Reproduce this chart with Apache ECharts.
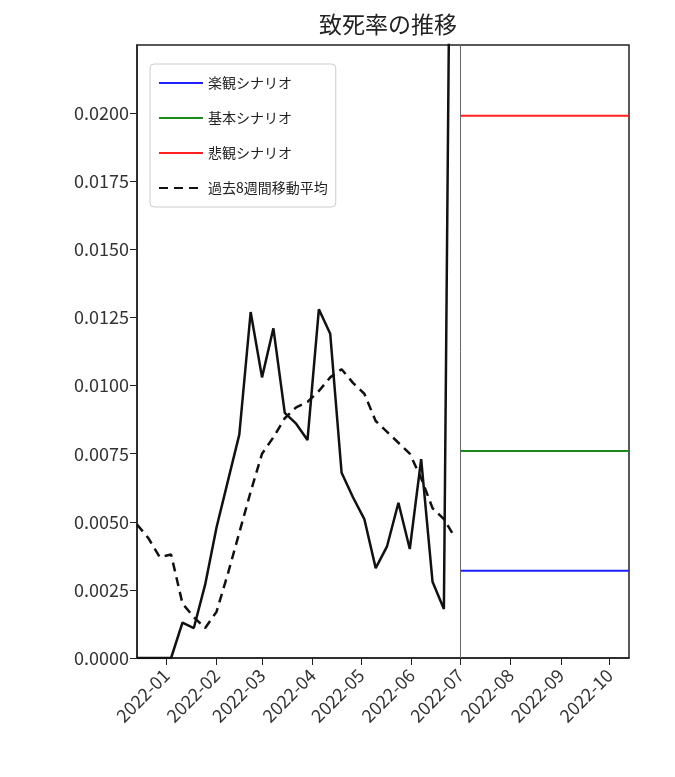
<!DOCTYPE html>
<html><head><meta charset="utf-8">
<script src="https://cdn.jsdelivr.net/npm/echarts@6/dist/echarts.min.js"></script>
<style>html,body{margin:0;padding:0;background:#fff}#c{width:675px;height:777px}</style>
</head><body><div id="c"></div>
<script>
const weeks = ['2021-12-14','2021-12-21','2021-12-28','2022-01-04','2022-01-11','2022-01-18','2022-01-25',
  '2022-02-01','2022-02-08','2022-02-15','2022-02-22','2022-03-01','2022-03-08','2022-03-15','2022-03-22',
  '2022-03-29','2022-04-05','2022-04-12','2022-04-19','2022-04-26','2022-05-03','2022-05-10','2022-05-17',
  '2022-05-24','2022-05-31','2022-06-07','2022-06-14','2022-06-21','2022-06-28'];
const fatality = [0, 0, 0, 0, 0.0013, 0.0011, 0.0027, 0.0048, 0.0065, 0.0082, 0.0127, 0.0103, 0.0121, 0.0090,
  0.0086, 0.0080, 0.0128, 0.0119, 0.0068, 0.0059, 0.0051, 0.0033, 0.0041, 0.0057, 0.0040, 0.0073, 0.0028, 0.0018, 0.05];
const movingAvg = [0.0049, 0.0044, 0.0037, 0.0038, 0.0020, 0.0015, 0.0011, 0.0017, 0.0031, 0.0046, 0.0061, 0.0075,
  0.0081, 0.0088, 0.0092, 0.0094, 0.0098, 0.0103, 0.0106, 0.0101, 0.0097, 0.0087, 0.0083, 0.0079, 0.0075, 0.0066,
  0.0055, 0.0051, 0.0044];
const scenarioRange = ['2022-07-01', '2022-10-13'];
const optimistic = 0.0032;
const baseline = 0.0076;
const pessimistic = 0.0199;
const monthTicks = ['2022-01-01','2022-02-01','2022-03-01','2022-04-01','2022-05-01','2022-06-01',
  '2022-07-01','2022-08-01','2022-09-01','2022-10-01'];

const ts = (d) => new Date(d + 'T00:00:00Z').getTime();
const pair = (dates, vals) => dates.map((d, i) => [ts(d), vals[i]]);
const flat = (v) => scenarioRange.map((d) => [ts(d), v]);
const font = '"Noto Sans CJK JP", "DejaVu Sans", sans-serif';
const tickVals = monthTicks.map(ts);

const chart = echarts.init(document.getElementById('c'));
chart.setOption({
  animation: false,
  textStyle: { fontFamily: font },
  title: { text: '致死率の推移', left: 383, top: 8, textAlign: 'center',
    textStyle: { fontSize: 23, fontWeight: 'normal', color: '#222', fontFamily: font } },
  grid: { left: 137, right: 46, top: 45, bottom: 119, show: true, borderColor: '#222', borderWidth: 1.5 },
  legend: {
    left: 150, top: 64, orient: 'vertical', itemWidth: 44, itemHeight: 10, itemGap: 21,
    padding: [12, 8, 12, 8], borderColor: '#ccc', borderWidth: 1, borderRadius: 4,
    itemStyle: { opacity: 0 },
    textStyle: { fontSize: 14, color: '#222', fontFamily: font },
    data: ['楽観シナリオ', '基本シナリオ', '悲観シナリオ', '過去8週間移動平均']
  },
  xAxis: {
    type: 'value', min: ts('2021-12-14'), max: ts('2022-10-13'),
    splitLine: { show: false },
    axisLine: { lineStyle: { color: '#222', width: 1.5 } },
    axisTick: { show: true, length: 7, lineStyle: { color: '#222' }, customValues: tickVals },
    axisLabel: {
      customValues: tickVals, rotate: 45, fontSize: 18, color: '#333', margin: 14,
      formatter: (v) => { const d = new Date(v); return d.getUTCFullYear() + '-' + String(d.getUTCMonth() + 1).padStart(2, '0'); }
    }
  },
  yAxis: {
    type: 'value', min: 0, max: 0.0225, interval: 0.0025,
    splitLine: { show: false },
    axisLine: { show: true, lineStyle: { color: '#222', width: 1.5 } },
    axisTick: { show: true, length: 7, lineStyle: { color: '#222' } },
    axisLabel: { fontSize: 18, color: '#333', showMaxLabel: false, formatter: (v) => v.toFixed(4) }
  },
  series: [
    { name: '楽観シナリオ', type: 'line', symbol: 'none', data: flat(optimistic), lineStyle: { color: '#1f1fff', width: 2 }, itemStyle: { color: '#1f1fff' } },
    { name: '基本シナリオ', type: 'line', symbol: 'none', data: flat(baseline), lineStyle: { color: '#1a8a1a', width: 2 }, itemStyle: { color: '#1a8a1a' } },
    { name: '悲観シナリオ', type: 'line', symbol: 'none', data: flat(pessimistic), lineStyle: { color: '#ff1f1f', width: 2 }, itemStyle: { color: '#ff1f1f' } },
    { name: '過去8週間移動平均', type: 'line', symbol: 'none', data: pair(weeks, movingAvg),
      lineStyle: { color: '#111', width: 2.5, type: [9, 6] }, itemStyle: { color: '#111' } },
    { name: '致死率', type: 'line', symbol: 'none', data: pair(weeks, fatality), clip: true,
      lineStyle: { color: '#111', width: 2.5 }, itemStyle: { color: '#111' },
      markLine: { symbol: 'none', silent: true, label: { show: false },
        lineStyle: { color: '#666', width: 1, type: 'solid' }, data: [{ xAxis: ts('2022-07-01') }] } }
  ]
});
</script></body></html>
